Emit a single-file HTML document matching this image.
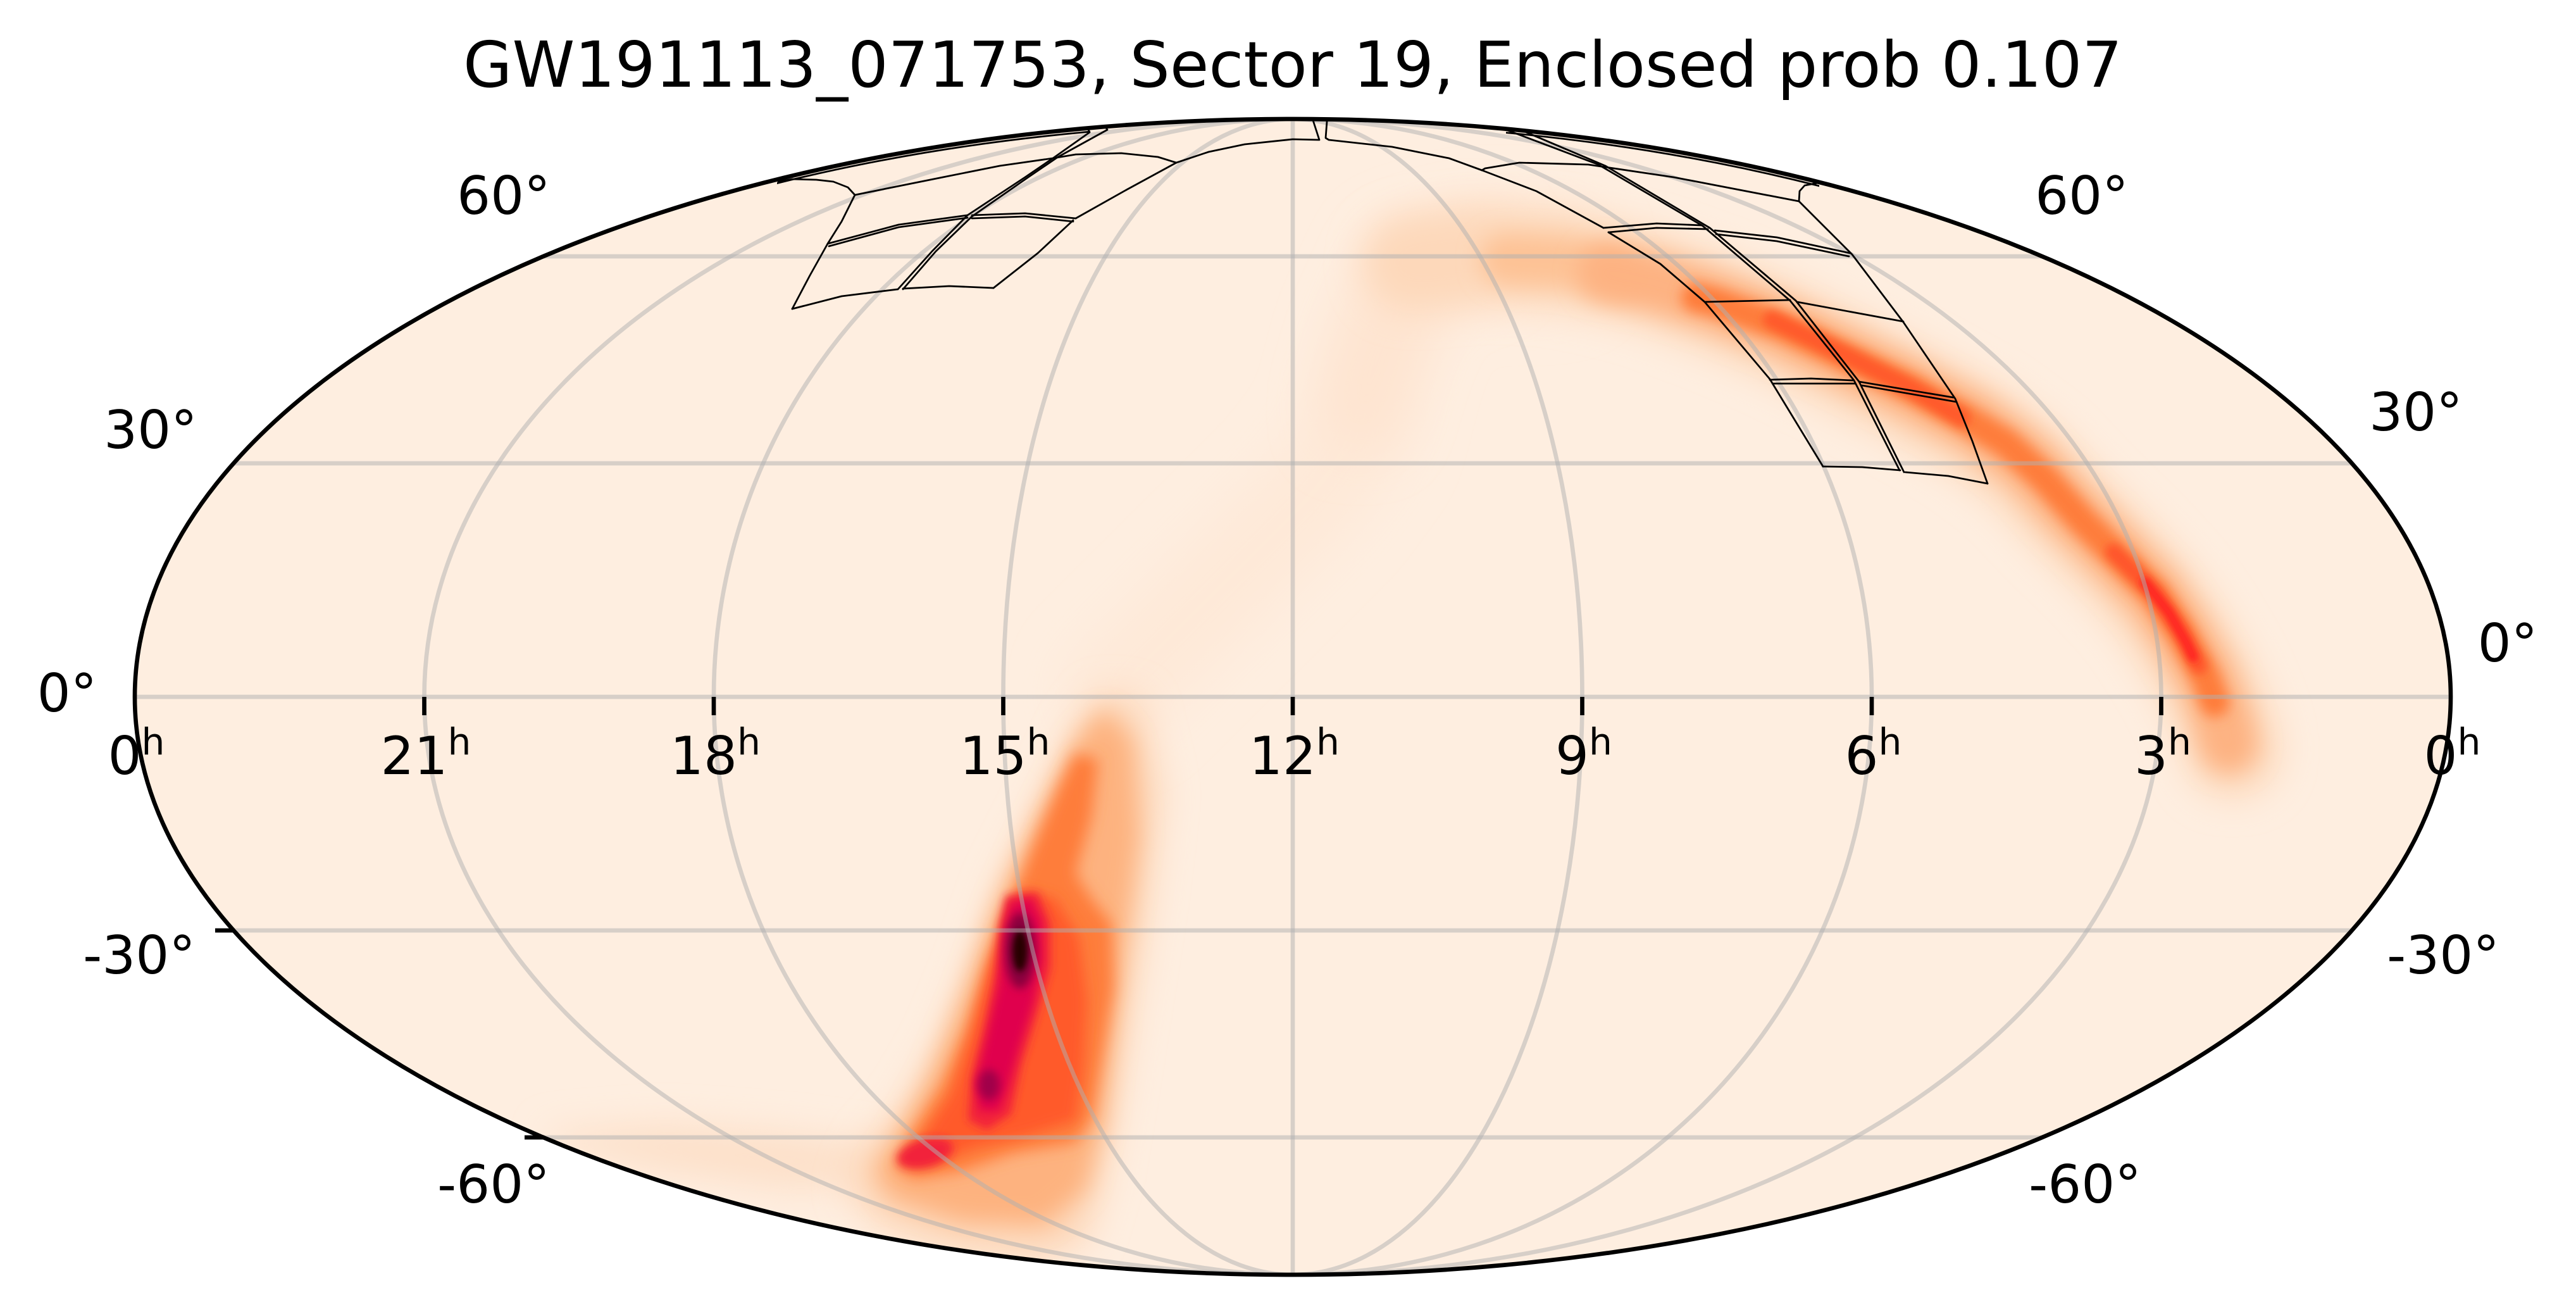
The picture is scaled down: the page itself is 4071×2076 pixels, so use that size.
<!DOCTYPE html>
<html>
<head>
<meta charset="utf-8">
<style>
  html,body{margin:0;padding:0;background:#fff;}
  svg{display:block;}
  text{font-family:"DejaVu Sans","Liberation Sans",sans-serif;fill:#000;}
</style>
</head>
<body>
<svg xmlns="http://www.w3.org/2000/svg" width="4071" height="2076" viewBox="0 0 4071 2076">
<rect width="4071" height="2076" fill="#fff"/>
<defs>
  <clipPath id="ell"><ellipse cx="2043" cy="1101" rx="1830" ry="913"/></clipPath>
  <clipPath id="topL"><rect x="1228" y="150" width="495" height="160"/></clipPath>
  <clipPath id="topR"><rect x="2380" y="150" width="495" height="160"/></clipPath>
  <filter id="g5" filterUnits="userSpaceOnUse" x="0" y="0" width="4071" height="2076"><feGaussianBlur stdDeviation="5"/></filter>
  <filter id="g7" filterUnits="userSpaceOnUse" x="0" y="0" width="4071" height="2076"><feGaussianBlur stdDeviation="7"/></filter>
  <filter id="g10" filterUnits="userSpaceOnUse" x="0" y="0" width="4071" height="2076"><feGaussianBlur stdDeviation="10"/></filter>
  <filter id="g12" filterUnits="userSpaceOnUse" x="0" y="0" width="4071" height="2076"><feGaussianBlur stdDeviation="12"/></filter>
  <filter id="g18" filterUnits="userSpaceOnUse" x="0" y="0" width="4071" height="2076"><feGaussianBlur stdDeviation="18"/></filter>
  <filter id="g28" filterUnits="userSpaceOnUse" x="0" y="0" width="4071" height="2076"><feGaussianBlur stdDeviation="28"/></filter>
  <filter id="g40" filterUnits="userSpaceOnUse" x="0" y="0" width="4071" height="2076"><feGaussianBlur stdDeviation="40"/></filter>
</defs>

<ellipse cx="2043" cy="1101" rx="1830" ry="913" fill="#feeee0"/>

<g clip-path="url(#ell)">
  <!-- ===== heatmap: northern arc ===== -->
  <g fill="none" stroke-linecap="round" stroke-linejoin="round">
    <polyline filter="url(#g40)" stroke="#fee9d8" stroke-width="160"
      points="1760,1095 1869,986 1973,883 2077,779 2144,688 2181,545 2233,430 2330,402 2450,405"/>
    <polyline filter="url(#g40)" stroke="#fee4d0" stroke-width="120"
      points="2150,650 2181,545 2233,430 2330,400"/>
    <polyline filter="url(#g28)" stroke="#fdd8ba" stroke-width="150"
      points="2230,415 2350,402 2470,410 2600,440 2712,480 2814,522 2916,572 3018,622 3120,677 3202,737 3273,812 3345,882 3406,948 3447,1008 3488,1078 3515,1140 3528,1185"/>
    <polyline filter="url(#g18)" stroke="#fdc295" stroke-width="80"
      points="2380,410 2470,414 2560,432"/>
    <polyline filter="url(#g18)" stroke="#fdb282" stroke-width="92"
      points="2540,430 2620,448 2712,478 2814,516 2916,565 3018,614 3120,668 3202,729 3273,806 3345,877 3406,940 3447,1001 3488,1072 3512,1135 3522,1175"/>
    <polyline filter="url(#g10)" stroke="#fe7d3a" stroke-width="46"
      points="2680,470 2712,478 2814,515 2916,563 3018,612 3100,658 3170,700 3230,755 3290,822 3345,877 3406,938 3447,999 3485,1068 3500,1110"/>
    <polyline filter="url(#g7)" stroke="#ff5a2b" stroke-width="28"
      points="2800,505 2860,533 2940,573 3018,612 3100,660"/>
    <polyline filter="url(#g7)" stroke="#ff5529" stroke-width="26"
      points="3340,872 3406,937 3447,998 3475,1052"/>
    <polyline filter="url(#g5)" stroke="#ff2523" stroke-width="16"
      points="3390,920 3428,968 3455,1015 3466,1038"/>
  </g>

  <!-- ===== heatmap: southern blob ===== -->
  <g stroke="none">
    <polygon filter="url(#g28)" fill="#fde0c9"
      points="860,1790 1050,1775 1250,1790 1400,1810 1420,1870 1250,1880 1050,1850 880,1815"/>
    <polygon filter="url(#g28)" fill="#fdd5b6"
      points="1740,1095 1800,1105 1835,1250 1815,1420 1790,1580 1765,1740 1745,1860 1715,1960 1640,1990 1500,1975 1390,1935 1340,1880 1370,1810 1430,1745 1485,1650 1535,1530 1580,1400 1645,1270 1700,1150"/>
    <polygon filter="url(#g18)" fill="#fdb27f"
      points="1745,1120 1790,1170 1800,1320 1780,1480 1762,1630 1745,1770 1715,1880 1650,1935 1520,1930 1410,1895 1380,1850 1420,1790 1470,1700 1520,1580 1575,1430 1635,1300 1700,1170"/>
    <polygon filter="url(#g12)" fill="#fe7d3b"
      points="1700,1190 1735,1200 1725,1290 1700,1380 1725,1420 1757,1460 1760,1560 1742,1670 1726,1765 1700,1805 1600,1822 1520,1850 1445,1862 1412,1842 1440,1792 1490,1712 1530,1620 1562,1520 1600,1420 1640,1320 1675,1240"/>
    <polygon filter="url(#g10)" fill="#ff5a2b"
      points="1615,1405 1668,1420 1705,1480 1718,1580 1712,1690 1700,1770 1620,1795 1540,1812 1470,1840 1432,1832 1462,1790 1502,1730 1532,1640 1562,1530 1590,1450"/>
    <polygon filter="url(#g7)" fill="#f2233a"
      points="1590,1415 1640,1410 1660,1460 1660,1530 1640,1600 1615,1680 1598,1760 1560,1785 1530,1770 1535,1700 1555,1620 1572,1540 1580,1460"/>
    <ellipse filter="url(#g7)" fill="#f2233a" cx="1462" cy="1822" rx="45" ry="22" transform="rotate(-15 1462 1822)"/>
    <polygon filter="url(#g7)" fill="#e0004e"
      points="1598,1428 1628,1420 1645,1455 1647,1515 1632,1585 1610,1655 1590,1725 1578,1755 1548,1755 1542,1712 1560,1640 1578,1560 1586,1480"/>
    <ellipse filter="url(#g7)" fill="#8a003e" cx="1612" cy="1502" rx="24" ry="60"/>
    <ellipse filter="url(#g7)" fill="#a0004a" cx="1563" cy="1714" rx="17" ry="24"/>
    <ellipse filter="url(#g5)" fill="#280006" cx="1612" cy="1502" rx="12" ry="33"/>
  </g>

  <!-- ===== grid ===== -->
  <g fill="none" stroke="#b0b0b0" stroke-opacity="0.5" stroke-width="6.67">
    <line x1="0" y1="1101" x2="4071" y2="1101"/>
    <line x1="0" y1="732" x2="4071" y2="732"/>
    <line x1="0" y1="1470" x2="4071" y2="1470"/>
    <line x1="0" y1="405" x2="4071" y2="405"/>
    <line x1="0" y1="1797" x2="4071" y2="1797"/>
    <line x1="2043" y1="0" x2="2043" y2="2076"/>
    <ellipse cx="2043" cy="1101" rx="457.5" ry="913"/>
    <ellipse cx="2043" cy="1101" rx="915" ry="913"/>
    <ellipse cx="2043" cy="1101" rx="1372.5" ry="913"/>
  </g>

  <!-- ===== TESS footprints ===== -->
  <g fill="none" stroke="#000" stroke-width="2.8" stroke-linejoin="round" stroke-linecap="round">
    <g clip-path="url(#topL)"><ellipse cx="2043" cy="1101" rx="1824" ry="907"/></g>
    <g clip-path="url(#topR)"><ellipse cx="2043" cy="1101" rx="1824" ry="907"/></g>
    <!-- left group -->
    <polyline points="1230,287 1252,283 1290,284 1317,287 1340,296 1351,308 1330,350 1308,385 1280,435 1252,488"/>
    <polyline points="1252,488 1330,468 1419,457"/>
    <polyline points="1427,456 1500,452 1570,455"/>
    <polyline points="1570,455 1640,400 1696,348"/>
    <polyline points="1308,385 1420,355 1529,340"/>
    <polyline points="1310,389 1420,359 1529,344"/>
    <polyline points="1536,340 1620,337 1700,345"/>
    <polyline points="1536,345 1620,342 1696,350"/>
    <polyline points="1700,197 1718,201 1722,209 1664,250 1620,280 1529,340 1473,397 1419,457"/>
    <polyline points="1730,196 1746,199 1750,205 1672,248 1625,280 1536,342 1479,397 1427,457"/>
    <polyline points="1351,308 1490,280 1580,262 1664,250 1700,244 1772,242 1830,248 1859,257"/>
    <polyline points="1859,257 1780,300 1700,345"/>
    <polyline points="1859,257 1910,240 1967,228 2043,220 2085,221 2075,190"/>
    <polyline points="2097,192 2095,218 2100,221 2200,232 2290,250 2342,269"/>
    <!-- right group -->
    <polyline points="2385,200 2378,202 2380,205 2526,260 2691,357 2829,475 2930,601 3002,743"/>
    <polyline points="2418,204 2410,206 2412,209 2537,262 2702,360 2838,475 2938,603 3009,746"/>
    <polyline points="2342,269 2347,266 2401,257 2510,260 2645,280 2843,318"/>
    <polyline points="2843,318 2844,302 2852,293 2873,289"/>
    <polyline points="2342,269 2428,302 2534,360"/>
    <polyline points="2534,360 2618,353 2689,356"/>
    <polyline points="2542,367 2618,360 2699,362"/>
    <polyline points="2710,364 2808,375 2924,400"/>
    <polyline points="2712,370 2808,381 2922,405"/>
    <polyline points="2843,318 2927,402 3008,509 3090,630 3092,635"/>
    <polyline points="2542,367 2624,417 2694,477 2797,599 2881,737"/>
    <polyline points="2694,477 2829,474"/>
    <polyline points="2840,477 3008,508"/>
    <polyline points="2797,600 2862,598 2928,601"/>
    <polyline points="2802,606 2932,606"/>
    <polyline points="2938,603 3087,628"/>
    <polyline points="2943,609 3092,635"/>
    <polyline points="2881,737 2943,738 3003,743"/>
    <polyline points="3011,746 3079,752 3141,764"/>
    <polyline points="3092,635 3117,697 3141,764"/>
  </g>
</g>

<!-- boundary -->
<ellipse cx="2043" cy="1101" rx="1830" ry="913" fill="none" stroke="#000" stroke-width="6.67"/>

<!-- ticks -->
<g stroke="#000" stroke-width="6.67">
  <line x1="670.5" y1="1101" x2="670.5" y2="1130"/>
  <line x1="1128" y1="1101" x2="1128" y2="1130"/>
  <line x1="1585.5" y1="1101" x2="1585.5" y2="1130"/>
  <line x1="2043" y1="1101" x2="2043" y2="1130"/>
  <line x1="2500.5" y1="1101" x2="2500.5" y2="1130"/>
  <line x1="2958" y1="1101" x2="2958" y2="1130"/>
  <line x1="3415.5" y1="1101" x2="3415.5" y2="1130"/>
  <line x1="340" y1="1470" x2="371" y2="1470"/>
  <line x1="829" y1="1797" x2="860" y2="1797"/>
</g>

<!-- RA labels -->
<g font-size="83.3" text-anchor="middle">
  <text x="215.5" y="1223">0<tspan font-size="58.3" dy="-31">h</tspan></text>
  <text x="673" y="1223">21<tspan font-size="58.3" dy="-31">h</tspan></text>
  <text x="1130.5" y="1223">18<tspan font-size="58.3" dy="-31">h</tspan></text>
  <text x="1588" y="1223">15<tspan font-size="58.3" dy="-31">h</tspan></text>
  <text x="2045.5" y="1223">12<tspan font-size="58.3" dy="-31">h</tspan></text>
  <text x="2503" y="1223">9<tspan font-size="58.3" dy="-31">h</tspan></text>
  <text x="2960.5" y="1223">6<tspan font-size="58.3" dy="-31">h</tspan></text>
  <text x="3418" y="1223">3<tspan font-size="58.3" dy="-31">h</tspan></text>
  <text x="3875.5" y="1223">0<tspan font-size="58.3" dy="-31">h</tspan></text>
</g>

<!-- Dec labels -->
<g font-size="83.3" text-anchor="middle">
  <text x="796" y="338">60°</text>
  <text x="238" y="708">30°</text>
  <text x="106" y="1124">0°</text>
  <text x="220" y="1538">-30°</text>
  <text x="780" y="1900">-60°</text>
  <text x="3290" y="338">60°</text>
  <text x="3818" y="680">30°</text>
  <text x="3963" y="1045">0°</text>
  <text x="3861" y="1538">-30°</text>
  <text x="3295" y="1900">-60°</text>
</g>

<!-- title -->
<text x="2043" y="137" font-size="100" text-anchor="middle">GW191113_071753, Sector 19, Enclosed prob 0.107</text>
</svg>
</body>
</html>
